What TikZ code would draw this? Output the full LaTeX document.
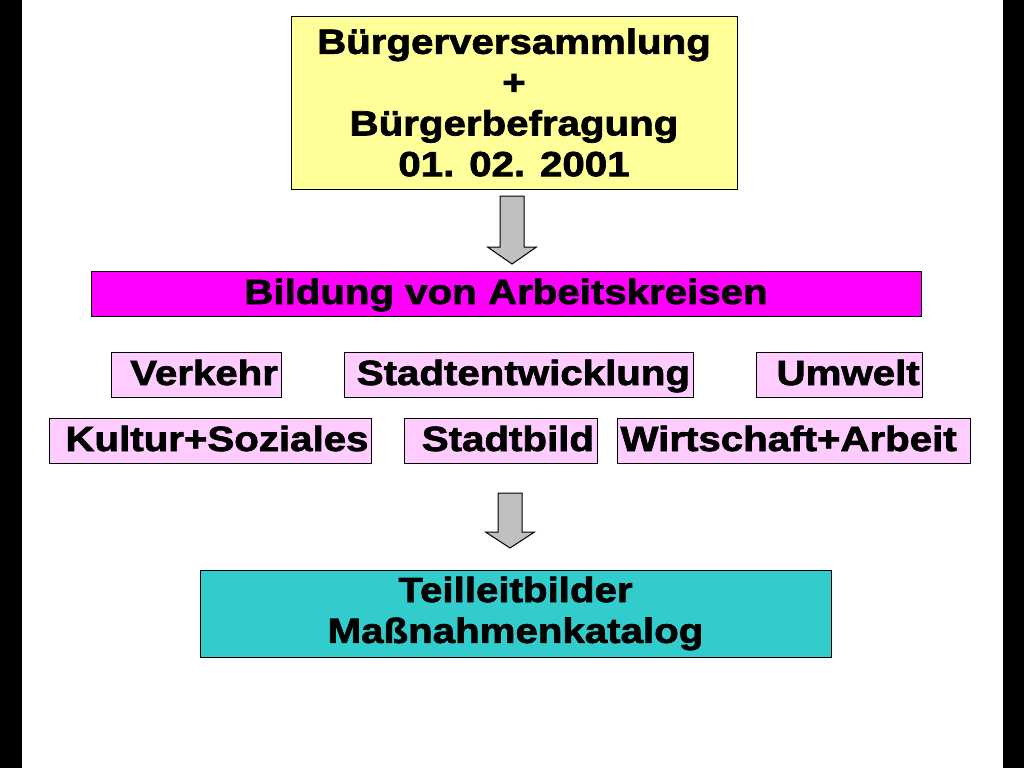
\documentclass[tikz,border=0pt]{standalone}
\usepackage{fontspec}
\newfontfamily\dick[FakeStretch=1.15,FakeBold=2]{Liberation Sans Bold}
\usepackage{tikz}
\usetikzlibrary{calc}
\definecolor{gelb}{HTML}{FFFF99}
\definecolor{magenta}{HTML}{FF00FF}
\definecolor{rosa}{HTML}{FFCCFF}
\definecolor{tuerkis}{HTML}{33CCCC}
\definecolor{pfeilgrau}{HTML}{C0C0C0}
\tikzset{
    kasten/.style={draw=black, line width=0.75pt, inner sep=0pt, align=center},
    kreis/.style={kasten, fill=rosa, minimum height=33.75pt, inner xsep=2.25pt,
        text height=20pt, text depth=4.25pt},
    pfeil/.style={draw=black, line width=0.75pt, fill=pfeilgrau, line join=miter},
}

\begin{document}
\begin{tikzpicture}[x=0.75pt, y=-0.75pt, font=\dick\fontsize{26.25pt}{30.6pt}\selectfont]
            \useasboundingbox (0,0) rectangle (1024,768);
            \fill[black] (0,0) rectangle (1024,768);
            \fill[white] (22,0) rectangle (1003,768);
            \node[kasten, fill=gelb, minimum width=334.5pt, minimum height=129.75pt] (oben) at (514,102.5)
                {B\"urgerversammlung\\+\\B\"urgerbefragung\\01. 02. 2001};
            \node[kasten, fill=magenta, minimum width=622.5pt, minimum height=33.75pt,
                text height=20pt, text depth=4.25pt] (bildung) at (506,293.5)
                {Bildung von Arbeitskreisen};
            \foreach \name/\x/\y/\w/\ausr/\wort in {verkehr/196/374.5/170/right/Verkehr,
                    stadtentw/518.5/374.5/349/right/Stadtentwicklung, umwelt/839.7/374.5/166/right/Umwelt,
                    kultur/210.5/440.5/322/right/Kultur+Soziales, stadtbild/500.5/440.5/193/right/Stadtbild,
                    wirtschaft/794/440.5/353/left/Wirtschaft+Arbeit} {
                \pgfmathsetmacro\tw{(\w-6)*0.75}
                \node[kreis, text width=\tw pt, align=\ausr] (\name) at (\x,\y) {\wort};
            }
            \node[kasten, fill=tuerkis, minimum width=473.25pt, minimum height=65.25pt] (massnahmen) at (515.5,613.5)
                {Teilleitbilder\\Ma\ss nahmenkatalog};
            \foreach \a/\b/\h/\k/\dy in {oben/bildung/34/17/0, stadtbild/massnahmen/27.5/11.5/4} {
                \coordinate (m) at ($(\a.south)!0.5!(\b.north)+(2,\dy)$);
                \begin{scope}[shift={(m)}]
                    \draw[pfeil] (-12,-\h) -- (12,-\h) -- (12,\k) -- (24.5,\k) -- (0,\h)
                        -- (-24.5,\k) -- (-12,\k) -- cycle;
                \end{scope}
            }
        \end{tikzpicture}
\end{document}
